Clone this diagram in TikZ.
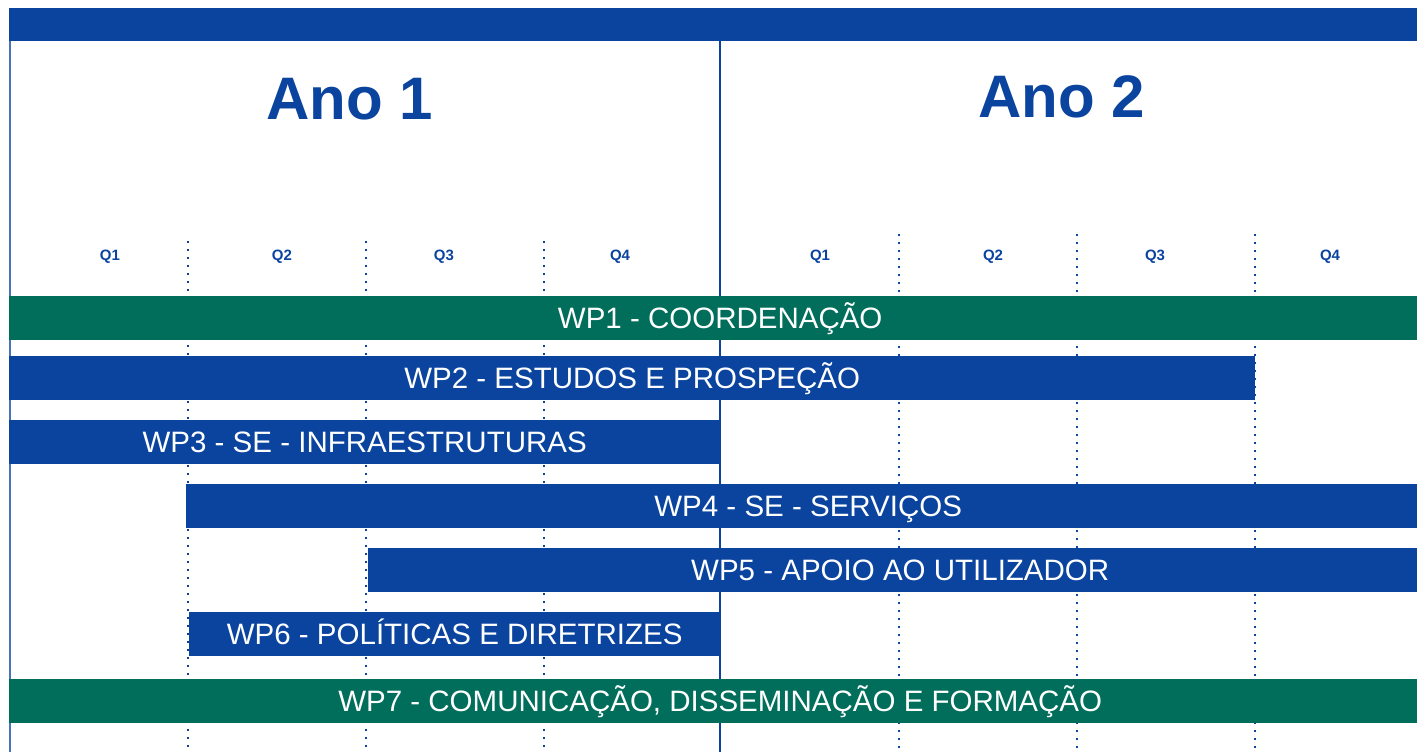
\documentclass[tikz,border=0pt]{standalone}
\usepackage{fontspec}
\setmainfont{Liberation Sans}
\usetikzlibrary{positioning}
\definecolor{wpblue}{HTML}{0A449F}
\definecolor{wpgreen}{HTML}{006E5B}

\begin{document}
\begin{tikzpicture}[x=1pt, y=-1pt,
    bar/.style={rectangle, inner sep=0pt, anchor=west, minimum height=44pt,
        text=white, font=\fontsize{29.5}{32}\selectfont, text height=21pt, text depth=0pt},
    yearlbl/.style={text=wpblue, font=\fontsize{60}{66}\selectfont\bfseries},
    qlbl/.style={text=wpblue, font=\fontsize{15}{18}\selectfont\bfseries},
    qdots/.style={draw=wpblue, line width=2pt, dash pattern=on 2pt off 6pt}]
    \useasboundingbox (0,0) rectangle (1417,752);
    \clip (0,0) rectangle (1417,752);
    \fill[wpblue] (9,8) rectangle (1420,41);
    \draw[wpblue!75, line width=2pt] (10,41) -- (10,752);
    \foreach \x in {188,366,544} \draw[qdots] (\x,241) -- (\x,752);
    \foreach \x in {899,1077,1255} \draw[qdots] (\x,234) -- (\x,752);
    \draw[wpblue, line width=2.2pt] (720,41) -- (720,752);
    \node[yearlbl] (ano1) at (350,99) {Ano 1};
    \node[yearlbl] (ano2) at (1062,97) {Ano 2};
    \foreach \q/\x in {1/110,2/282,3/444,4/620} \node[qlbl] (a1q\q) at (\x,257) {Q\q};
    \foreach \q/\x in {1/820,2/993,3/1155,4/1330} \node[qlbl] (a2q\q) at (\x,257) {Q\q};
    \node[bar, fill=wpgreen, minimum width=1422pt] (wp1) at (9,317.5) {WP1 - COORDENAÇÃO};
    \node[bar, fill=wpblue, minimum width=1246pt] (wp2) at (9,378) {WP2 - ESTUDOS E PROSPEÇÃO};
    \node[bar, fill=wpblue, minimum width=711pt] (wp3) at (9,441.5) {WP3 - SE - INFRAESTRUTURAS};
    \node[bar, fill=wpblue, minimum width=1244pt] (wp4) at (186,505.5) {WP4 - SE - SERVIÇOS};
    \node[bar, fill=wpblue, minimum width=1064pt] (wp5) at (368,569.5) {WP5 - APOIO AO UTILIZADOR};
    \node[bar, fill=wpblue, minimum width=531pt] (wp6) at (189,633.5) {WP6 - POLÍTICAS E DIRETRIZES};
    \node[bar, fill=wpgreen, minimum width=1422pt] (wp7) at (9,700.5) {WP7 - COMUNICAÇÃO, DISSEMINAÇÃO E FORMAÇÃO};
\end{tikzpicture}
\end{document}
